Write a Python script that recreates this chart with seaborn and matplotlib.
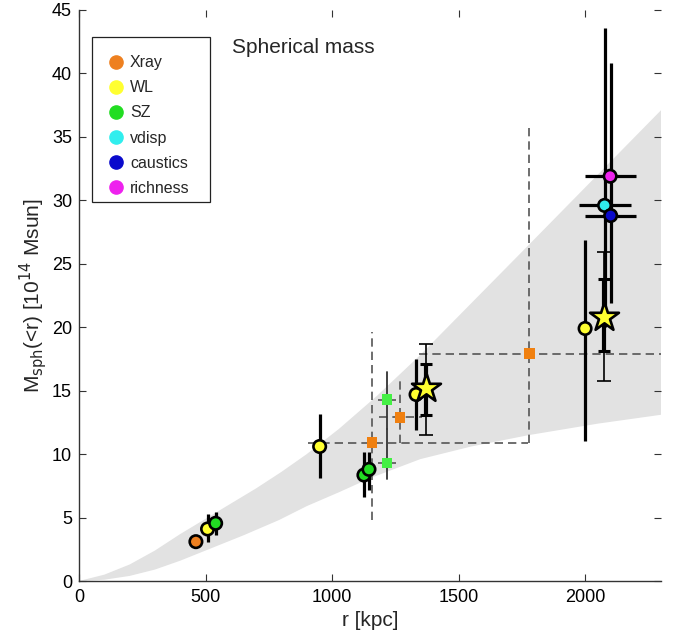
import numpy as np
import pandas as pd
import matplotlib
matplotlib.use("Agg")
import matplotlib.pyplot as plt
import seaborn as sns
from matplotlib.lines import Line2D
from matplotlib.patches import Rectangle

# ---------------- data ----------------
# grey band (upper / lower boundary)
band_up_r = [0, 100, 200, 300, 400, 500, 600, 700, 800, 900, 1028, 1178, 1348, 1783, 2300]
band_up_M = [0, 0.5, 1.3, 2.4, 3.7, 4.9, 6.1, 7.3, 8.6, 10.0, 12.0, 14.6, 17.8, 26.6, 37.1]
band_lo_r = [0, 100, 200, 300, 400, 500, 650, 790, 900, 1028, 1150, 1348, 1550, 1778, 2050, 2300]
band_lo_M = [0, 0.1, 0.4, 0.9, 1.6, 2.4, 3.6, 4.8, 5.9, 7.0, 8.1, 9.6, 10.6, 11.5, 12.4, 13.1]

# circles: category, r, M, M_lo, M_hi, r_lo, r_hi
circ_cat = ["Xray", "WL", "SZ", "WL", "SZ", "SZ", "WL", "WL", "vdisp", "caustics", "richness"]
circ_r = [462, 508, 540, 951, 1126, 1146, 1332, 2000, 2077, 2101, 2099]
circ_M = [3.1, 4.1, 4.55, 10.6, 8.35, 8.8, 14.7, 19.9, 29.6, 28.8, 31.9]
circ_Mlo = [np.nan, 3.1, 3.6, 8.1, 6.6, 7.2, 11.9, 11.0, 20.0, 21.9, np.nan]
circ_Mhi = [np.nan, 5.3, 5.4, 13.2, 10.2, 10.2, 17.5, 26.9, 43.6, 40.8, np.nan]
circ_rlo = [np.nan] * 8 + [1977, 2000, 2000]
circ_rhi = [np.nan] * 8 + [2180, 2202, 2202]

# stars (WL combined)
star_r = [1372, 2075]
star_M = [15.2, 20.8]
star_Mlo_out = [11.5, 15.8]
star_Mhi_out = [18.7, 25.9]
star_Mlo_in = [13.1, 18.1]
star_Mhi_in = [17.1, 23.8]

# Xray squares with dashed ranges
xsq_r = [1158, 1269, 1779]
xsq_M = [10.9, 12.9, 17.9]
xsq_rlo = [905, 1186, 1344]
xsq_rhi = [1775, 1356, 2400]
xsq_Mlo = [4.8, 10.9, 10.9]
xsq_Mhi = [19.6, 15.9, 35.9]

# SZ squares
szsq_r = [1217, 1217]
szsq_M = [14.3, 9.3]
szsq_Mlo = [12.0, 8.0]
szsq_Mhi = [16.5, 12.0]
szsq_rlo = [1182, 1182]
szsq_rhi = [1252, 1252]

categories = ["Xray", "WL", "SZ", "vdisp", "caustics", "richness"]
colors = ["#EE8020", "#FFFF30", "#22DD22", "#30EEEE", "#0A0ACC", "#EE22EE"]
pal = dict(zip(categories, colors))

x_ticks = [0, 500, 1000, 1500, 2000]
y_ticks = [0, 5, 10, 15, 20, 25, 30, 35, 40, 45]

# ---------------- plotting ----------------
sns.set_style("ticks")
plt.rcParams["font.family"] = ["Liberation Sans", "DejaVu Sans"]

fig = plt.figure(figsize=(6.81, 6.37), dpi=100)
ax = fig.add_axes([79 / 681, 1 - 581 / 637, 582 / 681, 571 / 637])

# band
ax.fill(np.r_[band_up_r, band_lo_r[::-1]], np.r_[band_up_M, band_lo_M[::-1]],
        color="#E2E2E2", lw=0, zorder=0)

dcol = "#555555"
# Xray dashed ranges
for r, M, rlo, rhi, mlo, mhi in zip(xsq_r, xsq_M, xsq_rlo, xsq_rhi, xsq_Mlo, xsq_Mhi):
    ax.plot([rlo, rhi], [M, M], ls=(0, (5, 3)), color=dcol, lw=1.2, zorder=1)
    ax.plot([r, r], [mlo, mhi], ls=(0, (5, 3)), color=dcol, lw=1.2, zorder=1)
# SZ squares ranges
for r, M, rlo, rhi, mlo, mhi in zip(szsq_r, szsq_M, szsq_rlo, szsq_rhi, szsq_Mlo, szsq_Mhi):
    ax.plot([rlo, rhi], [M, M], ls=(0, (4, 3)), color=dcol, lw=1.2, zorder=1)
    ax.plot([r, r], [mlo, mhi], color="#333333", lw=1.3, zorder=1)

# circle error bars
for r, M, mlo, mhi, rlo, rhi in zip(circ_r, circ_M, circ_Mlo, circ_Mhi, circ_rlo, circ_rhi):
    if not np.isnan(mlo):
        ax.plot([r, r], [mlo, mhi], color="black", lw=2.3, zorder=2, solid_capstyle="butt")
    if not np.isnan(rlo):
        ax.plot([rlo, rhi], [M, M], color="black", lw=2.3, zorder=2, solid_capstyle="butt")

# star error bars
ax.errorbar(star_r, star_M,
            yerr=[np.array(star_M) - np.array(star_Mlo_out), np.array(star_Mhi_out) - np.array(star_M)],
            fmt="none", ecolor="black", elinewidth=1.2, capsize=5, capthick=1.2, zorder=2)
ax.errorbar(star_r, star_M,
            yerr=[np.array(star_M) - np.array(star_Mlo_in), np.array(star_Mhi_in) - np.array(star_M)],
            fmt="none", ecolor="black", elinewidth=3.0, capsize=4, capthick=2.2, zorder=2)

# squares
sq = pd.DataFrame({"r": xsq_r + szsq_r, "M": xsq_M + szsq_M,
                   "cat": ["Xray"] * 3 + ["SZ"] * 2})
sq_pal = {"Xray": "#F08010", "SZ": "#44F044"}
sns.scatterplot(data=sq, x="r", y="M", hue="cat", palette=sq_pal, marker="s",
                s=60, linewidth=0, ax=ax, legend=False, zorder=3)

# circles
circ = pd.DataFrame({"r": circ_r, "M": circ_M, "cat": circ_cat})
sns.scatterplot(data=circ, x="r", y="M", hue="cat", palette=pal, marker="o",
                s=80, edgecolor="black", linewidth=1.9, ax=ax, legend=False, zorder=4)

# stars
st = pd.DataFrame({"r": star_r, "M": star_M})
sns.scatterplot(data=st, x="r", y="M", color="#FFFF30", marker="*", s=480,
                edgecolor="black", linewidth=1.9, ax=ax, legend=False, zorder=5)

# legend (frame drawn separately, MATLAB-like padding)
ax.add_patch(Rectangle((0.0223, 0.6643), 0.2028, 0.2889, transform=ax.transAxes,
                       facecolor="white", edgecolor="#222222", lw=0.9, zorder=6))
handles = [Line2D([], [], marker="o", ls="none", markersize=9.5, markerfacecolor=c,
                  markeredgecolor=c) for c in colors]
leg = ax.legend(handles, categories, loc="center left", bbox_to_anchor=(0.049, 0.7977),
                prop={"size": 11.5}, frameon=False, handletextpad=0.4,
                handlelength=1.0, labelspacing=0.63, borderpad=0, borderaxespad=0)
leg.set_zorder(7)

ax.text(0.263, 0.935, "Spherical mass", transform=ax.transAxes, fontsize=15,
        ha="left", va="center")

ax.set_xlim(0, 2300)
ax.set_ylim(0, 45)
ax.set_xticks(x_ticks)
ax.set_yticks(y_ticks)
ax.tick_params(direction="in", length=5, width=0.8, labelsize=13, colors="#333333",
               top=True, right=True, labelcolor="black")
ax.tick_params(axis="x", pad=6)
ax.tick_params(axis="y", pad=5)
for s in ["top", "right"]:
    ax.spines[s].set_visible(False)
for s in ["left", "bottom"]:
    ax.spines[s].set_color("#333333")
    ax.spines[s].set_linewidth(1.0)

ax.set_xlabel("r [kpc]", fontsize=15, labelpad=3)
ax.set_ylabel(r"M$_{\rm sph}$(<r) [10$^{14}$ Msun]", fontsize=15, labelpad=2)

fig.savefig("out.png", dpi=100)
